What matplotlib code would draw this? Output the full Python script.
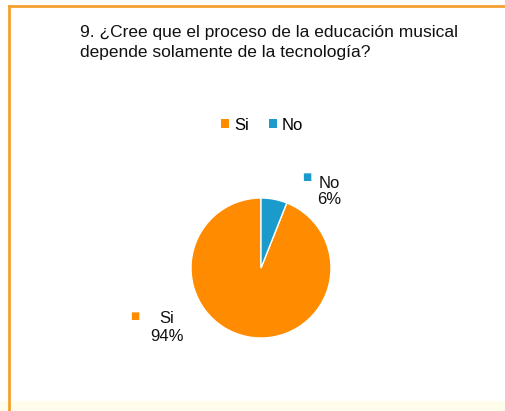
import matplotlib.pyplot as plt
from matplotlib.patches import Rectangle, Patch

plt.rcParams['font.family'] = ['Liberation Sans', 'DejaVu Sans']

# data
categories = ["Si", "No"]
values = [94, 6]
colors = ["#FF8C00", "#1A9BCB"]
title_lines = ["9. ¿Cree que el proceso de la educación musical",
               "depende solamente de la tecnología?"]

W, H = 506, 411
fig = plt.figure(figsize=(W / 100, H / 100), dpi=100)
fig.patch.set_facecolor("white")

# frame of the screenshot: orange top/left lines, pale strip at bottom
fig.add_artist(Rectangle((0, 0), 1, 10 / H, transform=fig.transFigure,
                         facecolor="#FFFCEB", edgecolor="none", zorder=0))
fig.add_artist(plt.Line2D([9 / W, 1], [1 - 6 / H, 1 - 6 / H], transform=fig.transFigure,
                          color="#F5A030", lw=2))
fig.add_artist(plt.Line2D([9 / W, 9 / W], [0, 1 - 6 / H], transform=fig.transFigure,
                          color="#F5A030", lw=2))

for i, line in enumerate(title_lines):
    fig.text(80 / W, 1 - (37 + 20 * i) / H, line, ha="left", va="baseline",
             fontsize=12.5, color="#111111")

# pie
r = 70
cx, cy = 261, 268
ax = fig.add_axes([(cx - r) / W, 1 - (cy + r) / H, 2 * r / W, 2 * r / H])
start = 90 - 360 * values[1] / sum(values)
wedges, _ = ax.pie(values, colors=colors, startangle=start, counterclock=False,
                   wedgeprops=dict(edgecolor="white", linewidth=1))
ax.set_xlim(-1, 1)
ax.set_ylim(-1, 1)

handles = [Patch(facecolor=c, edgecolor="none") for c in colors]
fig.legend(handles, categories, loc="center", bbox_to_anchor=(262 / W, 1 - 125 / H),
           ncol=2, frameon=False, fontsize=12, handlelength=0.5, handleheight=0.5,
           handletextpad=0.3, columnspacing=1.2)

# data labels with legend keys: (text centre x, baseline 1, baseline 2, key x, key y)
lbl = [(167, 323, 341, 135, 316), (329, 188, 204, 307, 177)]
for (tx, b1, b2, mx, my), cat, v, c in zip(lbl, categories, values, colors):
    fig.text(tx / W, 1 - b1 / H, cat, ha="center", va="baseline",
             fontsize=12, color="#111111")
    fig.text(tx / W, 1 - b2 / H, f"{v}%", ha="center", va="baseline",
             fontsize=12, color="#111111")
    fig.text(mx / W, 1 - my / H, "■", ha="center", va="center", fontsize=7,
             color=c, family="DejaVu Sans")

fig.savefig("out.png", dpi=100)
